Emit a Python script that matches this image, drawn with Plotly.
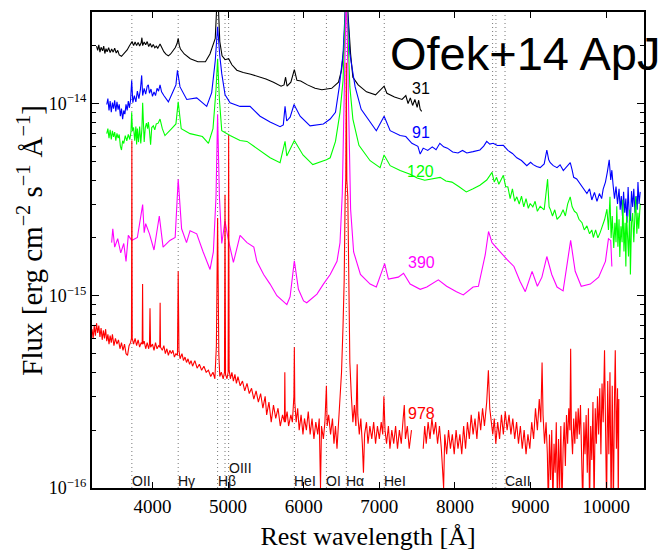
import plotly.graph_objects as go

# ---------------- data (flux in units of 1e-15 erg/cm2/s/A) ----------------
wl_31 = [3260, 3275, 3290, 3305, 3320, 3340, 3355, 3370, 3385, 3400, 3420, 3440, 3460, 3480, 3500, 3520,
         3540, 3560, 3590, 3615, 3640, 3665, 3690, 3710, 3730, 3750, 3770, 3790, 3810, 3830, 3850, 3860,
         3870, 3890, 3910, 3930, 3950, 3970, 3990, 4010, 4030, 4050, 4070, 4100, 4125, 4150, 4180, 4210,
         4240, 4270, 4300, 4325, 4340, 4355, 4370, 4420, 4500, 4600, 4700, 4760, 4830, 4861, 4890, 4920,
         4960, 5007, 5050, 5115, 5200, 5300, 5400, 5500, 5600, 5700, 5740, 5760, 5780, 5830, 5876, 5910,
         5960, 6050, 6150, 6240, 6370, 6460, 6500, 6530, 6563, 6620, 6650, 6720, 6830, 6950, 7063, 7100,
         7200, 7300, 7350, 7380, 7410, 7440, 7470, 7500, 7520, 7540, 7560]
fx_31 = [19.9, 18.9, 20.2, 18.5, 19.6, 18.8, 19.9, 18.2, 19.3, 18.6, 19.5, 18.4, 19.2, 18.5, 19.4, 18.3,
         18.9, 17.9, 17.6, 18.0, 18.5, 19.0, 19.8, 20.5, 21.0, 20.0, 20.9, 20.0, 20.8, 19.9, 20.7, 22.0,
         20.0, 20.9, 20.2, 21.0, 19.8, 20.5, 19.6, 20.3, 19.5, 19.9, 19.4, 20.4, 19.3, 18.6, 18.0, 17.7,
         18.1, 18.8, 19.5, 20.5, 21.8, 20.0, 19.2, 18.1, 17.1, 16.5, 16.5, 18.1, 21.8, 40.0, 21.0, 17.7,
         16.9, 17.1, 15.9, 14.9, 14.5, 14.2, 13.8, 13.4, 12.9, 12.3, 12.5, 13.7, 12.3, 12.9, 15.0, 13.2,
         13.1, 12.5, 12.0, 11.8, 12.0, 12.9, 14.9, 19.4, 40.0, 18.1, 13.7, 12.5, 11.5, 11.1, 12.3, 11.3,
         10.8, 10.5, 11.0, 10.0, 10.7, 9.77, 10.5, 9.55, 10.4, 9.33, 9.1]

wl_91 = [3395, 3410, 3425, 3440, 3455, 3470, 3485, 3500, 3515, 3530, 3545, 3560, 3575, 3590, 3605, 3620,
         3635, 3650, 3665, 3680, 3695, 3710, 3725, 3740, 3760, 3780, 3800, 3820, 3840, 3857, 3870, 3890,
         3910, 3930, 3945, 3960, 3980, 4000, 4020, 4040, 4060, 4080, 4100, 4120, 4150, 4180, 4210, 4270,
         4310, 4330, 4364, 4453, 4585, 4717, 4783, 4830, 4861, 4890, 4916, 4960, 5026, 5158, 5290, 5423,
         5555, 5687, 5730, 5753, 5775, 5820, 5872, 5952, 6084, 6260, 6350, 6420, 6470, 6520, 6563, 6610,
         6680, 6760, 6880, 6960, 7063, 7143, 7275, 7350, 7430, 7510, 7540, 7580, 7640, 7700, 7750, 7800,
         7850, 7900, 7970, 8040, 8100, 8157, 8240, 8330, 8380, 8420, 8460, 8505, 8560, 8640, 8700, 8760,
         8818, 8880, 8950, 9000, 9035, 9080, 9127, 9180, 9215, 9240, 9260, 9300, 9350, 9390, 9433, 9480,
         9525, 9550, 9570, 9610, 9640, 9690, 9745, 9780, 9810, 9845, 9878, 9910, 9940, 9960, 9990, 10015,
         10040, 10060, 10075, 10090, 10110, 10130, 10150, 10170, 10185, 10200, 10215, 10230, 10245, 10260,
         10275, 10290, 10305, 10320, 10335, 10350, 10365, 10380, 10395, 10410, 10420, 10435, 10450]
fx_91 = [9.88, 10.6, 9.2, 10.3, 9.0, 10.1, 9.4, 10.4, 9.1, 10.2, 9.3, 9.9, 8.6, 9.4, 8.3, 9.2,
         8.8, 9.9, 9.2, 10.3, 9.5, 10.4, 13.2, 10.1, 11.0, 10.2, 11.6, 10.6, 11.8, 14.0, 11.0, 12.0,
         11.2, 12.3, 12.5, 11.3, 11.9, 10.9, 11.5, 11.0, 12.0, 11.6, 12.5, 11.5, 11.0, 10.6, 10.2, 11.5,
         12.5, 14.9, 12.2, 10.5, 10.7, 9.66, 11.4, 16.7, 25.1, 17.7, 14.3, 11.1, 10.1, 9.66, 9.66, 8.59,
         8.01, 7.57, 7.74, 9.66, 8.11, 8.49, 9.88, 8.59, 7.65, 7.83, 8.30, 9.0, 12.2, 18.1, 40.0, 18.1,
         12.2, 9.33, 8.01, 7.22, 8.59, 7.22, 6.81, 6.73, 6.21, 5.99, 5.46, 5.86, 5.70, 5.95, 5.75, 6.21,
         5.95, 5.86, 5.60, 5.53, 5.70, 5.53, 5.62, 5.73, 6.0, 6.35, 6.15, 6.21, 6.05, 6.06, 5.70, 5.50,
         5.22, 5.05, 4.75, 4.95, 4.81, 4.70, 4.64, 4.85, 5.73, 5.10, 4.92, 4.75, 4.64, 4.80, 4.48, 4.70,
         4.92, 4.50, 4.13, 4.05, 3.90, 3.65, 3.40, 3.60, 3.15, 3.45, 3.10, 3.40, 3.20, 3.59, 3.90, 4.40,
         5.10, 4.00, 4.50, 3.81, 3.20, 3.70, 3.00, 3.60, 2.80, 3.30, 2.60, 3.47, 2.70, 3.20,
         2.40, 3.68, 2.60, 2.45, 3.50, 2.90, 3.60, 2.70, 3.30, 2.80, 3.90, 3.00, 3.47]

wl_120 = [3395, 3410, 3425, 3440, 3455, 3470, 3485, 3500, 3515, 3530, 3545, 3560, 3575, 3590, 3605, 3620,
          3640, 3660, 3680, 3700, 3715, 3725, 3735, 3750, 3765, 3780, 3790, 3800, 3815, 3830, 3845, 3860,
          3870, 3880, 3890, 3905, 3920, 3935, 3945, 3960, 3975, 3990, 4011, 4030, 4050, 4075, 4100, 4130,
          4165, 4250, 4310, 4340, 4380, 4497, 4660, 4740, 4800, 4840, 4861, 4885, 4916, 5026, 5158, 5250,
          5423, 5555, 5687, 5753, 5776, 5876, 5990, 6120, 6300, 6350, 6420, 6480, 6520, 6563, 6610, 6650,
          6730, 6878, 7010, 7063, 7143, 7275, 7407, 7500, 7600, 7700, 7804, 7880, 7960, 8050, 8150, 8240,
          8330, 8420, 8490, 8520, 8550, 8580, 8610, 8640, 8670, 8700, 8730, 8760, 8790, 8818, 8850, 8880,
          8910, 8940, 8970, 8995, 9030, 9060, 9090, 9127, 9180, 9200, 9225, 9245, 9260, 9290, 9320, 9350,
          9392, 9430, 9460, 9490, 9524, 9550, 9580, 9610, 9640, 9680, 9710, 9745, 9780, 9810, 9830, 9860,
          9890, 9920, 9950, 9980, 10010, 10030, 10050, 10065, 10080, 10100, 10115, 10130, 10140, 10155,
          10170, 10180, 10195, 10210, 10220, 10235, 10250, 10260, 10270, 10280, 10295, 10310, 10320, 10335,
          10350, 10365, 10380, 10390, 10405, 10420, 10430, 10440, 10450]
fx_120 = [6.97, 7.4, 6.6, 7.3, 6.5, 7.2, 6.7, 7.1, 6.4, 7.0, 6.6, 6.9, 6.0, 5.73, 6.4, 6.2,
          6.8, 6.4, 6.9, 6.5, 7.1, 9.0, 7.2, 7.5, 6.4, 7.6, 6.13, 7.4, 6.3, 7.6, 6.2, 7.4,
          10.1, 7.0, 6.3, 7.5, 7.9, 7.4, 8.0, 7.2, 6.1, 7.5, 7.65, 7.3, 7.83, 7.9, 8.30, 7.4,
          6.81, 7.39, 7.83, 10.2, 7.39, 6.97, 6.73, 6.21, 7.39, 11.8, 17.1, 10.5, 7.22, 6.81, 6.42, 6.35,
          5.66, 5.22, 4.92, 6.35, 5.34, 6.42, 5.40, 4.81, 5.10, 5.22, 6.35, 9.0, 13.2, 40.0, 12.2, 8.30,
          6.06, 5.04, 4.64, 5.40, 4.75, 4.48, 4.28, 4.10, 3.99, 4.05, 4.13, 3.95, 3.90, 3.70, 3.47, 3.60,
          3.76, 4.00, 4.38, 3.90, 4.13, 3.80, 3.99, 4.23, 3.70, 3.68, 3.20, 3.60, 3.10, 3.27, 3.00, 3.30,
          2.90, 3.20, 2.85, 3.02, 2.90, 3.10, 2.75, 2.92, 2.80, 3.30, 4.04, 2.90, 2.82, 2.60, 2.80, 2.50,
          2.60, 2.80, 2.60, 3.00, 3.27, 2.90, 2.75, 2.69, 2.50, 2.40, 2.20, 2.31, 2.10, 2.20, 2.01, 2.20,
          2.00, 2.13, 2.30, 2.50, 2.82, 2.20, 3.27, 2.00, 2.60, 1.77, 2.40, 1.90, 2.92, 1.80,
          2.50, 1.59, 2.30, 1.90, 3.16, 1.70, 2.40, 1.42, 2.60, 2.23, 1.60, 2.80, 1.29, 2.40,
          2.69, 1.90, 2.90, 3.27, 2.10, 2.70, 2.23, 2.90, 3.02]

wl_390 = [3460, 3475, 3500, 3540, 3580, 3620, 3650, 3680, 3725, 3800, 3870, 3890, 3910, 3960, 4020, 4090,
          4140, 4230, 4300, 4340, 4385, 4450, 4497, 4585, 4670, 4761, 4805, 4840, 4861, 4885, 4916, 4959,
          5000, 5070, 5158, 5250, 5340, 5380, 5470, 5555, 5645, 5777, 5820, 5876, 5930, 5998, 6040, 6175,
          6260, 6350, 6440, 6480, 6510, 6563, 6620, 6660, 6750, 6878, 6960, 7070, 7120, 7250, 7320, 7407,
          7540, 7628, 7780, 7890, 8020, 8110, 8240, 8310, 8400, 8444, 8490, 8550, 8690, 8780, 8860, 8930,
          9020, 9090, 9150, 9215, 9280, 9350, 9430, 9530, 9590, 9670, 9790, 9900, 9990, 10030, 10060, 10075]
fx_390 = [1.89, 2.23, 1.79, 1.98, 1.67, 1.87, 1.51, 2.06, 1.94, 2.01, 2.98, 2.13, 2.37, 2.10, 1.73, 2.60,
          1.79, 1.94, 2.01, 4.04, 2.23, 1.89, 2.18, 2.10, 1.69, 1.37, 1.69, 3.27, 8.80, 3.27, 1.87, 2.45,
          1.98, 1.49, 2.06, 1.89, 1.79, 1.51, 1.29, 1.15, 1.00, 0.90, 0.99, 1.52, 1.08, 0.94, 0.92, 1.02,
          1.15, 1.29, 1.51, 1.89, 3.40, 40.0, 2.82, 1.69, 1.29, 1.15, 1.11, 1.47, 1.22, 1.25, 1.31, 1.15,
          1.08, 1.11, 1.21, 1.12, 1.05, 1.01, 1.11, 1.12, 1.63, 2.16, 1.89, 1.77, 1.54, 1.42, 1.19, 1.05,
          1.34, 1.12, 1.25, 1.60, 1.29, 1.11, 1.06, 1.94, 1.34, 1.12, 1.15, 1.25, 1.51, 1.98, 1.94, 1.42]

wl_978 = [3200, 3215, 3230, 3245, 3260, 3275, 3290, 3305, 3320, 3335, 3350, 3365, 3380, 3395, 3410, 3425,
          3440, 3455, 3470, 3490, 3510, 3530, 3550, 3570, 3590, 3610, 3630, 3650, 3670, 3690, 3710, 3722,
          3727, 3732, 3750, 3770, 3790, 3810, 3830, 3850, 3864, 3869, 3874, 3890, 3910, 3930, 3950, 3960,
          3967, 3975, 4000, 4020, 4040, 4060, 4080, 4096, 4101, 4106, 4130, 4150, 4170, 4190, 4210, 4230,
          4250, 4270, 4290, 4310, 4330, 4340, 4350, 4365, 4390, 4410, 4430, 4450, 4470, 4490, 4510, 4530,
          4560, 4590, 4620, 4650, 4680, 4710, 4740, 4770, 4800, 4825, 4845, 4861, 4877, 4890, 4910, 4935,
          4952, 4959, 4966, 4985, 5000, 5007, 5014, 5030, 5050, 5070, 5090, 5110, 5130, 5160, 5190, 5220,
          5250, 5280, 5310, 5340, 5370, 5400, 5430, 5460, 5490, 5510, 5540, 5570, 5600, 5630, 5660, 5690,
          5720, 5745, 5750, 5756, 5780, 5800, 5830, 5850, 5870, 5876, 5882, 5900, 5920, 5940, 5965, 5990,
          6010, 6035, 6060, 6085, 6110, 6135, 6160, 6185, 6205, 6222, 6235, 6260, 6280, 6300, 6310, 6330,
          6355, 6380, 6400, 6420, 6440, 6460, 6481, 6500, 6520, 6535, 6548, 6556, 6563, 6570, 6583, 6595,
          6610, 6630, 6650, 6670, 6690, 6707, 6715, 6735, 6755, 6775, 6790, 6805, 6830, 6850, 6875, 6900,
          6925, 6950, 6975, 7000, 7025, 7045, 7060, 7075, 7095, 7120, 7140, 7165, 7190, 7215, 7240, 7265,
          7290, 7315, 7330, 7345, 7370, 7395, 7425, None, 7580, 7600, 7620, 7645, 7670, 7695, 7720, 7745,
          7770, 7795, 7820, 7850, 7865, 7890, 7915, 7940, 7965, 7990, 8015, 8040, 8065, 8090, 8115, 8140,
          8165, 8190, 8215, 8240, 8265, 8290, 8315, 8340, 8365, 8390, 8420, 8442, 8460, 8480, 8500, 8520,
          8540, 8565, 8590, 8615, 8640, 8665, 8690, 8715, 8740, 8765, 8790, 8815, 8840, 8865, 8890, 8915,
          8940, 8965, 8990, 9015, 9040, 9065, 9090, 9115, 9135, 9152, 9165, 9185, 9205, 9222, 9235, 9250,
          9265, 9280, 9295, 9310, 9325, 9340, 9355, 9370, 9385, 9400, 9415, 9430, 9445, 9460, 9475, 9490,
          9505, 9520, 9530, 9540, 9555, 9570, 9585, 9600, 9615, 9630, 9645, 9660, 9675, 9690, 9705, 9720,
          9735, 9750, 9765, 9780, 9795, 9810, 9825, 9840, 9855, 9870, 9885, 9900, 9915, 9930, 9945, 9960,
          9978, 9990, 10005, 10020, 10035, 10050, 10065, 10080, 10095, 10110, 10120, 10135, 10150, 10160, 10167]
fx_978 = [0.67, 0.60, 0.70, 0.62, 0.72, 0.64, 0.70, 0.61, 0.68, 0.59, 0.66, 0.60, 0.67, 0.58, 0.63, 0.56,
          0.62, 0.57, 0.63, 0.55, 0.60, 0.56, 0.59, 0.53, 0.57, 0.52, 0.56, 0.50, 0.49, 0.55, 0.57, 0.60,
          6.43, 0.60, 0.56, 0.60, 0.55, 0.59, 0.54, 0.57, 0.56, 1.15, 0.56, 0.58, 0.53, 0.57, 0.53, 0.56,
          0.86, 0.54, 0.56, 0.52, 0.57, 0.53, 0.55, 0.54, 0.92, 0.54, 0.52, 0.55, 0.50, 0.53, 0.49, 0.52,
          0.50, 0.52, 0.48, 0.50, 0.49, 1.34, 0.52, 0.47, 0.50, 0.46, 0.48, 0.45, 0.47, 0.44, 0.46, 0.43,
          0.46, 0.42, 0.44, 0.41, 0.43, 0.40, 0.41, 0.38, 0.40, 0.37, 0.55, 2.54, 0.50, 0.38, 0.40, 0.37,
          0.40, 3.35, 0.39, 0.37, 0.40, 6.81, 0.41, 0.37, 0.40, 0.36, 0.39, 0.35, 0.38, 0.34, 0.36, 0.32,
          0.35, 0.31, 0.33, 0.29, 0.32, 0.28, 0.31, 0.26, 0.30, 0.24, 0.28, 0.22, 0.27, 0.23, 0.26, 0.21,
          0.24, 0.22, 0.40, 0.22, 0.25, 0.21, 0.24, 0.22, 0.30, 0.54, 0.28, 0.22, 0.26, 0.20, 0.24, 0.19,
          0.23, 0.20, 0.25, 0.19, 0.23, 0.18, 0.22, 0.19, 0.23, 0.10, 0.21, 0.18, 0.22, 0.34, 0.21, 0.24,
          0.19, 0.23, 0.17, 0.21, 0.16, 0.22, 0.29, 0.40, 0.70, 1.20, 3.27, 4.0, 16.3, 4.0, 3.27, 1.0,
          0.45, 0.30, 0.22, 0.27, 0.21, 0.44, 0.24, 0.19, 0.23, 0.17, 0.12, 0.19, 0.22, 0.17, 0.21, 0.18,
          0.22, 0.17, 0.21, 0.18, 0.22, 0.19, 0.30, 0.20, 0.17, 0.21, 0.16, 0.20, 0.17, 0.21, 0.16, 0.20,
          0.17, 0.23, 0.27, 0.18, 0.21, 0.16, 0.20, None, 0.16, 0.21, 0.17, 0.22, 0.18, 0.23, 0.19, 0.22,
          0.17, 0.21, 0.16, 0.10, 0.19, 0.15, 0.20, 0.16, 0.19, 0.15, 0.20, 0.16, 0.19, 0.15, 0.21, 0.16,
          0.22, 0.18, 0.24, 0.19, 0.23, 0.18, 0.25, 0.20, 0.26, 0.21, 0.28, 0.41, 0.26, 0.22, 0.19, 0.23,
          0.17, 0.22, 0.18, 0.24, 0.19, 0.25, 0.20, 0.24, 0.19, 0.23, 0.18, 0.22, 0.17, 0.21, 0.16, 0.20,
          0.15, 0.19, 0.16, 0.22, 0.18, 0.26, 0.20, 0.29, 0.22, 0.45, 0.24, 0.17, 0.22, 0.15, 0.08, 0.19,
          0.11, 0.20, 0.08, 0.17, 0.12, 0.22, 0.08, 0.18, 0.10, 0.21, 0.08, 0.16, 0.22, 0.13, 0.24, 0.17,
          0.26, 0.20, 0.53, 0.20, 0.15, 0.23, 0.17, 0.25, 0.18, 0.26, 0.19, 0.27, 0.16, 0.08, 0.22, 0.15,
          0.24, 0.12, 0.26, 0.08, 0.21, 0.14, 0.28, 0.08, 0.26, 0.17, 0.30, 0.19, 0.33, 0.15, 0.35, 0.22,
          0.52, 0.28, 0.08, 0.36, 0.15, 0.40, 0.08, 0.34, 0.08, 0.30, 0.52, 0.16, 0.33, 0.08, 0.29]

epochs = ["31", "91", "120", "390", "978"]
colors = ["#000000", "#0000ff", "#00ff00", "#ff00ff", "#ff0000"]
label_wl = [7407, 7407, 7341, 7350, 7354]
label_py = [0.839, 0.747, 0.665, 0.4745, 0.157]

line_names = ["OII", "Hγ", "Hβ", "", "OIII", "HeI", "OI", "Hα", "HeI", "", "", "CaII"]
line_wl = [3727, 4340, 4861, 4959, 5007, 5876, 6300, 6563, 7065, 8498, 8542, 8662]

xticks = [4000, 5000, 6000, 7000, 8000, 9000, 10000]
xtick_text = ["4000", "5000", "6000", "7000", "8000", "9000", "10000"]
ymajor = [1e-16, 1e-15, 1e-14]
ymajor_text = ["10<sup>−16</sup>", "10<sup>−15</sup>", "10<sup>−14</sup>"]
SCALE = 1e-15

fig = go.Figure()

for wl in line_wl:
    fig.add_shape(type="line", xref="x", yref="paper", x0=wl, x1=wl, y0=0, y1=1,
                  line=dict(color="#777777", width=1, dash="1px,3px"), layer="below")

series = [(wl_31, fx_31), (wl_91, fx_91), (wl_120, fx_120), (wl_390, fx_390), (wl_978, fx_978)]
for (wl, fx), name, col in zip(series, epochs, colors):
    fig.add_trace(go.Scatter(x=wl, y=[v * SCALE if v is not None else None for v in fx],
                             mode="lines", name=name, line=dict(color=col, width=1.1),
                             connectgaps=False, hoverinfo="skip", showlegend=False))

for name, col, lx, ly in zip(epochs, colors, label_wl, label_py):
    fig.add_annotation(x=lx, y=ly, xref="x", yref="paper", text=name, showarrow=False,
                       xanchor="left", yanchor="middle",
                       font=dict(family="Liberation Sans", size=16, color=col))

for name, wl in zip(line_names, line_wl):
    if not name:
        continue
    yy = 0.041 if name == "OIII" else 0.0143
    fig.add_annotation(x=wl, y=yy, xref="x", yref="paper", text=name, showarrow=False,
                       xanchor="left", yanchor="middle", xshift=-2,
                       font=dict(family="Liberation Sans", size=14, color="#111111"))

fig.add_annotation(x=0.537, y=0.912, xref="paper", yref="paper", text="Ofek+14 ApJ",
                   showarrow=False, xanchor="left", yanchor="middle",
                   font=dict(family="Liberation Sans", size=47, color="black"))

fig.add_annotation(x=-0.112, y=0.52, xref="paper", yref="paper",
                   text="Flux [erg cm<sup>−2</sup> s<sup>−1</sup> Å<sup>−1</sup>]",
                   textangle=-90, showarrow=False, xanchor="center", yanchor="middle",
                   font=dict(family="Liberation Serif", size=29, color="black"))

minor_vals = []
for e in [1e-16, 1e-15, 1e-14]:
    for k in range(2, 10):
        if k * e < 3e-14:
            minor_vals.append(k * e)

fig.update_layout(
    width=665, height=556,
    margin=dict(l=92, r=21, t=10, b=56),
    paper_bgcolor="white", plot_bgcolor="white",
    xaxis=dict(range=[3200, 10500], tickmode="array", tickvals=xticks, ticktext=xtick_text,
               ticks="inside", ticklen=6, tickwidth=1, tickcolor="black",
               showline=True, linewidth=2, linecolor="black", mirror="allticks",
               showgrid=False, zeroline=False,
               tickfont=dict(family="Liberation Serif", size=19, color="black"),
               title=dict(text="Rest wavelength [Å]", standoff=11,
                          font=dict(family="Liberation Serif", size=26, color="black"))),
    yaxis=dict(type="log", range=[-16, -13.524], tickmode="array", tickvals=ymajor,
               ticktext=ymajor_text, ticks="inside", ticklen=7, tickwidth=1, tickcolor="black",
               minor=dict(tickmode="array", tickvals=minor_vals, ticks="inside", ticklen=4,
                          tickcolor="black", showgrid=False),
               showline=True, linewidth=2, linecolor="black", mirror="allticks",
               showgrid=False, zeroline=False,
               tickfont=dict(family="Liberation Serif", size=18, color="black")),
)

fig.write_html("out.html")
